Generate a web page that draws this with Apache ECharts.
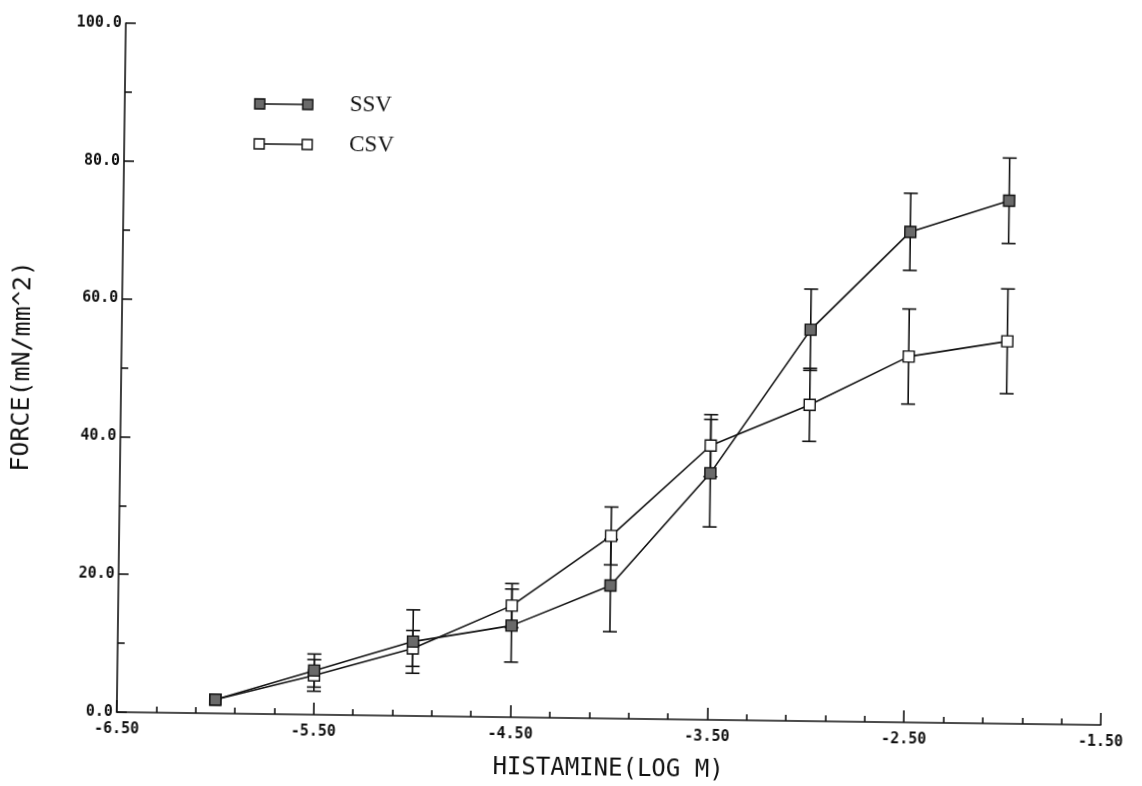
<!DOCTYPE html>
<html>
<head>
<meta charset="utf-8">
<script src="https://cdn.jsdelivr.net/npm/echarts@6/dist/echarts.min.js"></script>
<style>
  html, body { margin: 0; padding: 0; background: #fff; overflow: hidden; }
  /* the plotted sheet sits very slightly turned clockwise */
  #chart { width: 1142px; height: 786px; transform: rotate(0.75deg); transform-origin: 571px 393px; }
</style>
</head>
<body>
<div id="chart"></div>
<script>
// Histamine concentration (log M)
var doses = [-6.0, -5.5, -5.0, -4.5, -4.0, -3.5, -3.0, -2.5, -2.0];
// Force, mN/mm^2 (mean and error)
var ssvMean = [2.0, 6.4, 10.8, 13.3, 19.3, 35.8, 56.8, 71.2, 75.9];
var ssvErr  = [0, 2.4, 4.6, 5.3, 6.7, 7.8, 5.9, 5.6, 6.2];
var csvMean = [2.0, 5.7, 9.8, 16.2, 26.5, 39.8, 45.9, 53.1, 55.5];
var csvErr  = [0, 2.3, 2.6, 3.2, 4.2, 4.5, 5.3, 6.9, 7.6];
var seriesNames = ['SSV', 'CSV'];

var INK = '#111';
var SSV_FILL = '#6a6a6a';
var tickFont = { fontFamily: 'DejaVu Sans Mono', fontWeight: 'bold', fontSize: 15, color: INK };

function pairs(xs, ys) {
  return xs.map(function (x, i) { return [x, ys[i]]; });
}
function bars(xs, ys, es) {
  var out = [];
  xs.forEach(function (x, i) {
    if (es[i] > 0) out.push([x, ys[i] - es[i], ys[i] + es[i]]);
  });
  return out;
}
function errorRender(params, api) {
  var x = api.value(0);
  var lo = api.coord([x, api.value(1)]);
  var hi = api.coord([x, api.value(2)]);
  var w = 7;
  var style = { stroke: INK, lineWidth: 1.6 };
  return {
    type: 'group',
    children: [
      { type: 'line', shape: { x1: lo[0], y1: lo[1], x2: hi[0], y2: hi[1] }, style: style },
      { type: 'line', shape: { x1: lo[0] - w, y1: lo[1], x2: lo[0] + w, y2: lo[1] }, style: style },
      { type: 'line', shape: { x1: hi[0] - w, y1: hi[1], x2: hi[0] + w, y2: hi[1] }, style: style }
    ]
  };
}

// Legend rows: a short line with a square at each end, then the name
function legendRow(name, fill, y) {
  return {
    type: 'group',
    x: 256, y: y,
    children: [
      { type: 'line', shape: { x1: 0, y1: 0, x2: 48, y2: 0 }, style: { stroke: INK, lineWidth: 1.5 } },
      { type: 'rect', shape: { x: -5, y: -5, width: 10, height: 10 }, style: { fill: fill, stroke: INK, lineWidth: 1.4 } },
      { type: 'rect', shape: { x: 43, y: -5, width: 10, height: 10 }, style: { fill: fill, stroke: INK, lineWidth: 1.4 } },
      { type: 'text', x: 90, y: 0, style: { text: name, fill: INK, font: '23px "Liberation Serif"', verticalAlign: 'middle', align: 'left' } }
    ]
  };
}

var chart = echarts.init(document.getElementById('chart'), null, { renderer: 'canvas' });
chart.setOption({
  backgroundColor: '#fff',
  animation: false,
  grid: { left: 121, right: 37, top: 29, bottom: 64 },
  xAxis: {
    type: 'value', min: -6.5, max: -1.5, interval: 1,
    name: 'HISTAMINE(LOG M)', nameLocation: 'middle', nameGap: 39,
    nameTextStyle: { fontFamily: 'DejaVu Sans Mono', fontSize: 24, color: INK },
    axisLine: { show: true, onZero: false, lineStyle: { color: INK, width: 1.6 } },
    axisTick: { show: true, inside: true, length: 12, lineStyle: { color: INK, width: 1.6 } },
    minorTick: { show: true, splitNumber: 5, length: 6, lineStyle: { color: INK, width: 1.6 } },
    axisLabel: Object.assign({ margin: 10, formatter: function (v) { return v.toFixed(2); } }, tickFont),
    splitLine: { show: false }
  },
  yAxis: {
    type: 'value', min: 0, max: 100, interval: 20,
    name: 'FORCE(mN/mm^2)', nameLocation: 'middle', nameGap: 86,
    nameTextStyle: { fontFamily: 'DejaVu Sans Mono', fontSize: 25, color: INK },
    axisLine: { show: true, onZero: false, lineStyle: { color: INK, width: 1.6 } },
    axisTick: { show: true, inside: true, length: 10, lineStyle: { color: INK, width: 1.6 } },
    minorTick: { show: true, splitNumber: 2, length: 7, lineStyle: { color: INK, width: 1.6 } },
    axisLabel: Object.assign({ margin: 4, formatter: function (v) { return v.toFixed(1); } }, tickFont),
    splitLine: { show: false }
  },
  graphic: [
    legendRow(seriesNames[0], SSV_FILL, 108),
    legendRow(seriesNames[1], '#fff', 148)
  ],
  series: [
    {
      name: seriesNames[1] + ' error', type: 'custom', renderItem: errorRender,
      data: bars(doses, csvMean, csvErr), z: 2, silent: true
    },
    {
      name: seriesNames[0] + ' error', type: 'custom', renderItem: errorRender,
      data: bars(doses, ssvMean, ssvErr), z: 2, silent: true
    },
    {
      name: seriesNames[1], type: 'line', data: pairs(doses, csvMean), z: 3,
      symbol: 'rect', symbolSize: 11, showAllSymbol: true,
      lineStyle: { color: INK, width: 1.6 },
      itemStyle: { color: '#fff', borderColor: INK, borderWidth: 1.4 }
    },
    {
      name: seriesNames[0], type: 'line', data: pairs(doses, ssvMean), z: 4,
      symbol: 'rect', symbolSize: 11, showAllSymbol: true,
      lineStyle: { color: INK, width: 1.6 },
      itemStyle: { color: SSV_FILL, borderColor: INK, borderWidth: 1.4 }
    }
  ]
});
</script>
</body>
</html>
